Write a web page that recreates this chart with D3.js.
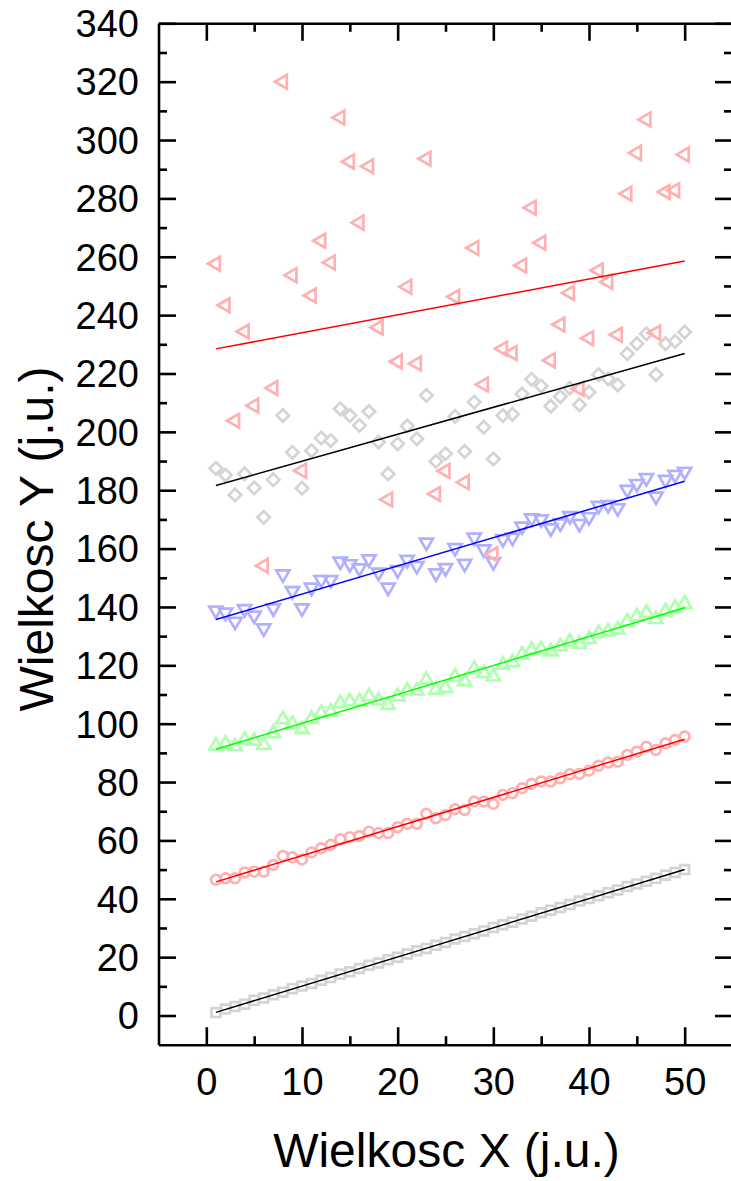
<!DOCTYPE html>
<html>
<head>
<meta charset="utf-8">
<script src="https://cdn.jsdelivr.net/npm/d3@7"></script>
<style>
  html, body { margin: 0; padding: 0; background: #fff; }
  svg { display: block; }
  text { font-family: "Liberation Sans", Arial, sans-serif; fill: #000; }
</style>
</head>
<body>
<svg id="chart" width="731" height="1181"></svg>
<script>
// x positions shared by every series
const xValues = [1,2,3,4,5,6,7,8,9,10,11,12,13,14,15,16,17,18,19,20,21,22,23,24,25,
                 26,27,28,29,30,31,32,33,34,35,36,37,38,39,40,41,42,43,44,45,46,47,48,49,50];

const squares = [1.0,2.2,3.1,3.9,5.2,6.0,7.1,8.0,9.2,10.1,11.0,12.1,13.0,14.2,15.0,16.1,17.2,18.0,19.1,20.0,
                 21.1,22.2,23.0,24.1,25.0,26.2,27.1,28.0,29.0,30.2,31.1,32.0,33.1,34.0,35.2,36.1,37.0,38.0,39.2,40.1,
                 41.0,42.1,43.0,44.2,45.1,46.0,47.0,48.1,49.0,50.0];

const circles = [46.5,47.0,47.0,49.0,49.3,49.3,51.6,54.7,54.2,53.5,55.9,57.3,58.5,60.4,61.1,61.5,63.0,62.5,62.5,64.5,
                 65.7,65.7,69.1,67.6,68.7,70.7,70.4,73.3,73.3,72.5,75.6,76.2,77.9,79.4,80.2,80.2,81.3,82.7,82.8,83.9,
                 85.6,86.7,87.0,89.3,90.4,92.1,91.0,93.3,94.4,95.6];

const upTriangles = [92.4,93.1,92.2,94.4,94.1,92.7,96.7,101.5,99.9,98.1,101.6,103.6,104.1,107.0,107.6,107.6,109.3,107.9,106.4,109.3,
                     111.3,111.3,115.0,111.6,112.2,116.1,114.4,118.7,117.3,116.1,120.2,121.0,123.6,125.3,125.5,124.7,126.4,128.1,127.3,129.0,
                     131.0,131.6,132.2,135.0,136.7,137.9,135.8,138.4,139.6,141.1];

const downTriangles = [138.8,138.1,135.0,139.3,137.1,132.7,139.6,151.2,145.5,139.6,146.7,149.3,149.3,155.6,154.7,153.3,156.4,151.8,146.7,152.7,
                       156.2,154.1,162.1,151.6,153.4,160.2,154.8,163.8,159.8,155.4,163.3,163.8,167.6,170.4,170.1,167.0,168.7,171.2,168.5,170.8,
                       174.7,175.0,173.9,180.2,182.2,184.2,177.9,183.6,185.3,186.4];

const diamonds = [187.5,185.2,178.4,185.6,180.8,170.7,183.6,205.6,193.0,180.7,193.5,197.9,197.0,207.9,205.6,202.2,207.0,196.5,185.6,195.9,
                  202.0,197.6,212.5,189.9,192.5,205.3,193.3,210.2,201.6,190.7,205.6,206.0,213.0,218.0,215.7,208.8,212.1,215.0,209.3,213.6,
                  219.6,218.2,216.1,226.8,230.2,233.6,219.6,230.2,231.0,234.2];

const leftTriangles = [257.6,243.4,203.8,234.4,209.0,154.1,215.0,320.0,253.7,186.7,246.7,265.5,258.0,307.7,292.6,271.7,291.0,235.8,176.8,224.1,
                       249.7,223.4,293.6,178.7,186.6,246.3,182.7,263.0,216.2,158.1,228.5,227.0,257.0,276.8,264.8,224.5,236.8,247.6,214.8,232.1,
                       255.3,251.4,233.3,281.6,295.6,307.0,234.0,282.2,282.8,295.0];

// axis ticks
const xMajorTicks = [0, 10, 20, 30, 40, 50];
const xMinorTicks = [5, 15, 25, 35, 45];
const yMajorTicks = [0,20,40,60,80,100,120,140,160,180,200,220,240,260,280,300,320,340];
const yMinorTicks = [10,30,50,70,90,110,130,150,170,190,210,230,250,270,290,310,330];

const xTitle = "Wielkosc X (j.u.)";
const yTitle = "Wielkosc Y (j.u.)";

// marker shapes, drawn around the origin; the symbol size is used as the radius
const shapes = {
  square: { draw(ctx, r) { ctx.rect(-r, -r, 2 * r, 2 * r); } },
  circle: { draw(ctx, r) { ctx.moveTo(r, 0); ctx.arc(0, 0, r, 0, 2 * Math.PI); } },
  up: { draw(ctx, r) {
    const s = r * Math.sqrt(3) / 2;
    ctx.moveTo(0, -r); ctx.lineTo(s, r / 2); ctx.lineTo(-s, r / 2); ctx.closePath(); } },
  down: { draw(ctx, r) {
    const s = r * Math.sqrt(3) / 2;
    ctx.moveTo(0, r); ctx.lineTo(s, -r / 2); ctx.lineTo(-s, -r / 2); ctx.closePath(); } },
  diamond: { draw(ctx, r) {
    ctx.moveTo(0, -r); ctx.lineTo(r, 0); ctx.lineTo(0, r); ctx.lineTo(-r, 0); ctx.closePath(); } },
  left: { draw(ctx, r) {
    const s = r * Math.sqrt(3) / 2;
    ctx.moveTo(-r, 0); ctx.lineTo(r / 2, -s); ctx.lineTo(r / 2, s); ctx.closePath(); } }
};

const series = [
  { values: squares,       shape: "square",  size: 4.4, marker: "#d4d4d4", fit: "#000000" },
  { values: circles,       shape: "circle",  size: 4.9, marker: "#ffb0b0", fit: "#ff0000" },
  { values: upTriangles,   shape: "up",      size: 7.6, marker: "#b0ffb0", fit: "#00ff00" },
  { values: downTriangles, shape: "down",    size: 7.6, marker: "#b0b0ff", fit: "#0000ff" },
  { values: diamonds,      shape: "diamond", size: 6.2, marker: "#d4d4d4", fit: "#000000" },
  { values: leftTriangles, shape: "left",    size: 8.0, marker: "#ffb0b0", fit: "#ff0000" }
];

const svg = d3.select("#chart");
const plot = { left: 158.5, right: 732.5, top: 23.3, bottom: 1044.7 };

const x = d3.scaleLinear().domain([-5, 55]).range([plot.left, plot.right]);
const y = d3.scaleLinear().domain([-10, 340]).range([plot.bottom, plot.top]);

// least squares line through a series
function linearFit(xs, ys) {
  const mx = d3.mean(xs), my = d3.mean(ys);
  let sxy = 0, sxx = 0;
  xs.forEach((xv, i) => { sxy += (xv - mx) * (ys[i] - my); sxx += (xv - mx) * (xv - mx); });
  const slope = sxy / sxx;
  return xv => my + slope * (xv - mx);
}

// markers
const markers = svg.append("g").attr("class", "markers");
series.forEach(s => {
  const sym = d3.symbol().type(shapes[s.shape]).size(s.size);
  markers.append("g")
    .selectAll("path")
    .data(xValues.map((xv, i) => ({ x: xv, y: s.values[i] })))
    .join("path")
    .attr("transform", d => `translate(${x(d.x)},${y(d.y)})`)
    .attr("d", sym)
    .attr("fill", "none")
    .attr("stroke", s.marker)
    .attr("stroke-width", 2.7)
    .attr("stroke-linejoin", "miter");
});

// fitted lines
const lines = svg.append("g").attr("class", "fits");
series.forEach(s => {
  const f = linearFit(xValues, s.values);
  const ends = [d3.min(xValues), d3.max(xValues)];
  lines.append("path")
    .datum(ends.map(xv => [xv, f(xv)]))
    .attr("d", d3.line().x(d => x(d[0])).y(d => y(d[1])))
    .attr("fill", "none")
    .attr("stroke", s.fit)
    .attr("stroke-width", 1.5);
});

// axes: frame on all four sides, ticks pointing inward
const majorLen = 17.5, minorLen = 8.5;
function styleAxis(g) {
  g.select(".domain").attr("stroke", "#000").attr("stroke-width", 2.6);
  g.selectAll(".tick line").attr("stroke", "#000").attr("stroke-width", 2.6);
}

const bottomMajor = svg.append("g")
  .attr("transform", `translate(0,${plot.bottom})`)
  .call(d3.axisBottom(x).tickValues(xMajorTicks).tickSizeInner(-majorLen).tickSizeOuter(0).tickFormat(d3.format("d")));
bottomMajor.call(styleAxis);
bottomMajor.selectAll(".tick text")
  .attr("y", 50).attr("dy", 0)
  .style("font-size", "38px");
svg.append("g")
  .attr("transform", `translate(0,${plot.bottom})`)
  .call(d3.axisBottom(x).tickValues(xMinorTicks).tickSizeInner(-minorLen).tickSizeOuter(0).tickFormat(""))
  .call(styleAxis).select(".domain").remove();

svg.append("g")
  .attr("transform", `translate(0,${plot.top})`)
  .call(d3.axisTop(x).tickValues(xMajorTicks).tickSizeInner(-majorLen).tickSizeOuter(0).tickFormat(""))
  .call(styleAxis);
svg.append("g")
  .attr("transform", `translate(0,${plot.top})`)
  .call(d3.axisTop(x).tickValues(xMinorTicks).tickSizeInner(-minorLen).tickSizeOuter(0).tickFormat(""))
  .call(styleAxis).select(".domain").remove();

const leftMajor = svg.append("g")
  .attr("transform", `translate(${plot.left},0)`)
  .call(d3.axisLeft(y).tickValues(yMajorTicks).tickSizeInner(-majorLen).tickSizeOuter(0).tickPadding(19.5).tickFormat(d3.format("d")));
leftMajor.call(styleAxis);
leftMajor.selectAll(".tick text")
  .attr("dy", "0.35em")
  .style("font-size", "38px");
svg.append("g")
  .attr("transform", `translate(${plot.left},0)`)
  .call(d3.axisLeft(y).tickValues(yMinorTicks).tickSizeInner(-minorLen).tickSizeOuter(0).tickFormat(""))
  .call(styleAxis).select(".domain").remove();

svg.append("g")
  .attr("transform", `translate(${plot.right},0)`)
  .call(d3.axisRight(y).tickValues(yMajorTicks).tickSizeInner(-majorLen).tickSizeOuter(0).tickFormat(""))
  .call(styleAxis);
svg.append("g")
  .attr("transform", `translate(${plot.right},0)`)
  .call(d3.axisRight(y).tickValues(yMinorTicks).tickSizeInner(-minorLen).tickSizeOuter(0).tickFormat(""))
  .call(styleAxis).select(".domain").remove();

// axis titles
svg.append("text")
  .attr("x", 446.5)
  .attr("y", 1166.5)
  .attr("text-anchor", "middle")
  .style("font-size", "48px")
  .text(xTitle);

svg.append("text")
  .attr("transform", "translate(53,539) rotate(-90)")
  .attr("text-anchor", "middle")
  .style("font-size", "48px")
  .text(yTitle);
</script>
</body>
</html>
